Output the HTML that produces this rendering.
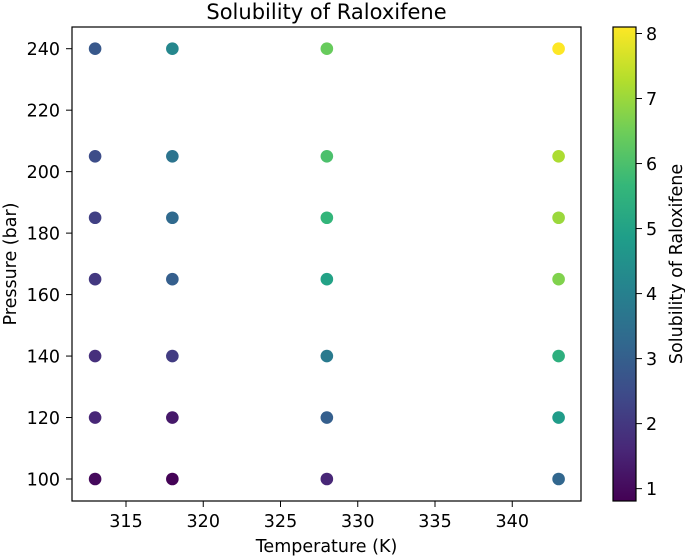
<!DOCTYPE html>
<html><head><meta charset="utf-8"><style>
body{margin:0;background:#fff}
svg{display:block;font-family:"DejaVu Sans","Liberation Sans",sans-serif}
</style></head><body>
<svg id="chart" width="685" height="556" viewBox="0 0 685 556">
<defs><linearGradient id="vir" x1="0" y1="1" x2="0" y2="0"></linearGradient></defs>
<text x="326.5" y="19" text-anchor="middle" font-size="21" fill="#000">Solubility of Raloxifene</text>
<g id="plot"></g>
<rect x="72" y="27" width="509" height="474" fill="none" stroke="#000" stroke-width="1.2"/>
<text x="326.5" y="552" text-anchor="middle" font-size="17.5">Temperature (K)</text>
<text transform="translate(16,264) rotate(-90)" text-anchor="middle" font-size="17.5">Pressure (bar)</text>
<rect x="613" y="27" width="23" height="474" fill="url(#vir)" stroke="#000" stroke-width="1.2"/>
<text transform="translate(682,264) rotate(-90)" text-anchor="middle" font-size="17.5">Solubility of Raloxifene</text>
<g id="cbticks"></g>
</svg>
<script>
const temps=[313,313,313,313,313,313,313,318,318,318,318,318,318,318,328,328,328,328,328,328,328,343,343,343,343,343,343,343];
const pressures=[100,120,140,165,185,205,240,100,120,140,165,185,205,240,100,120,140,165,185,205,240,100,120,140,165,185,205,240];
const solubility=[1.0,1.6,1.8,2.0,2.2,2.5,2.8,0.85,1.3,2.1,3.0,3.3,3.6,4.2,1.6,3.0,3.8,5.0,5.6,6.0,6.4,3.2,4.8,5.4,6.7,7.0,7.2,8.1];
const xTicks=[315,320,325,330,335,340];
const yTicks=[100,120,140,160,180,200,220,240];
const cTicks=[1,2,3,4,5,6,7,8];
const NS='http://www.w3.org/2000/svg';
const X=t=>126+(t-315)*15.45;
const Y=p=>479-(p-100)*(430.3/140);
const vmin=0.81,vmax=8.1;
const C=v=>501-(v-vmin)*(474/(vmax-vmin));
const vir=[[68,1,84],[72,40,120],[62,74,137],[49,104,142],[38,130,142],[31,158,137],[53,183,121],[109,205,89],[180,222,44],[253,231,37]];
function col(v){let t=Math.max(0,Math.min(1,(v-vmin)/(vmax-vmin)))*(vir.length-1);let i=Math.min(Math.floor(t),vir.length-2),f=t-i;
const c=vir[i].map((a,k)=>Math.round(a+(vir[i+1][k]-a)*f));return `rgb(${c})`;}
function mk(tag,a,parent){const e=document.createElementNS(NS,tag);for(const k in a)e.setAttribute(k,a[k]);parent.appendChild(e);return e;}
const g=document.getElementById('plot');
xTicks.forEach(t=>{
 const l=mk('line',{x1:X(t),x2:X(t),y1:501,y2:507,stroke:'#000'},g);
 
 
 const tx=mk('text',{x:X(t),y:527,'text-anchor':'middle','font-size':17.5},g);tx.textContent=t;
 
 
});
yTicks.forEach(p=>{
 const l=mk('line',{x1:66,x2:72,y1:Y(p),y2:Y(p),stroke:'#000'},g);
 
 
 const tx=mk('text',{x:60,y:Y(p)+6.5,'text-anchor':'end','font-size':17.5},g);tx.textContent=p;
 
 
});
temps.forEach((t,i)=>{
 const c=mk('circle',{cx:X(t),cy:Y(pressures[i]),r:6.3,fill:col(solubility[i])},g);
 
 
});
const grad=document.getElementById('vir');
vir.forEach((c,i)=>{mk('stop',{offset:(i/(vir.length-1)),'stop-color':`rgb(${c})`},grad);});
const cb=document.getElementById('cbticks');
cTicks.forEach(v=>{
 const l=mk('line',{x1:636,x2:642,y1:C(v),y2:C(v),stroke:'#000'},cb);
 
 
 const tx=mk('text',{x:646,y:C(v)+6.5,'font-size':17.5},cb);tx.textContent=v;
 
 
});
</script>
</body></html>
